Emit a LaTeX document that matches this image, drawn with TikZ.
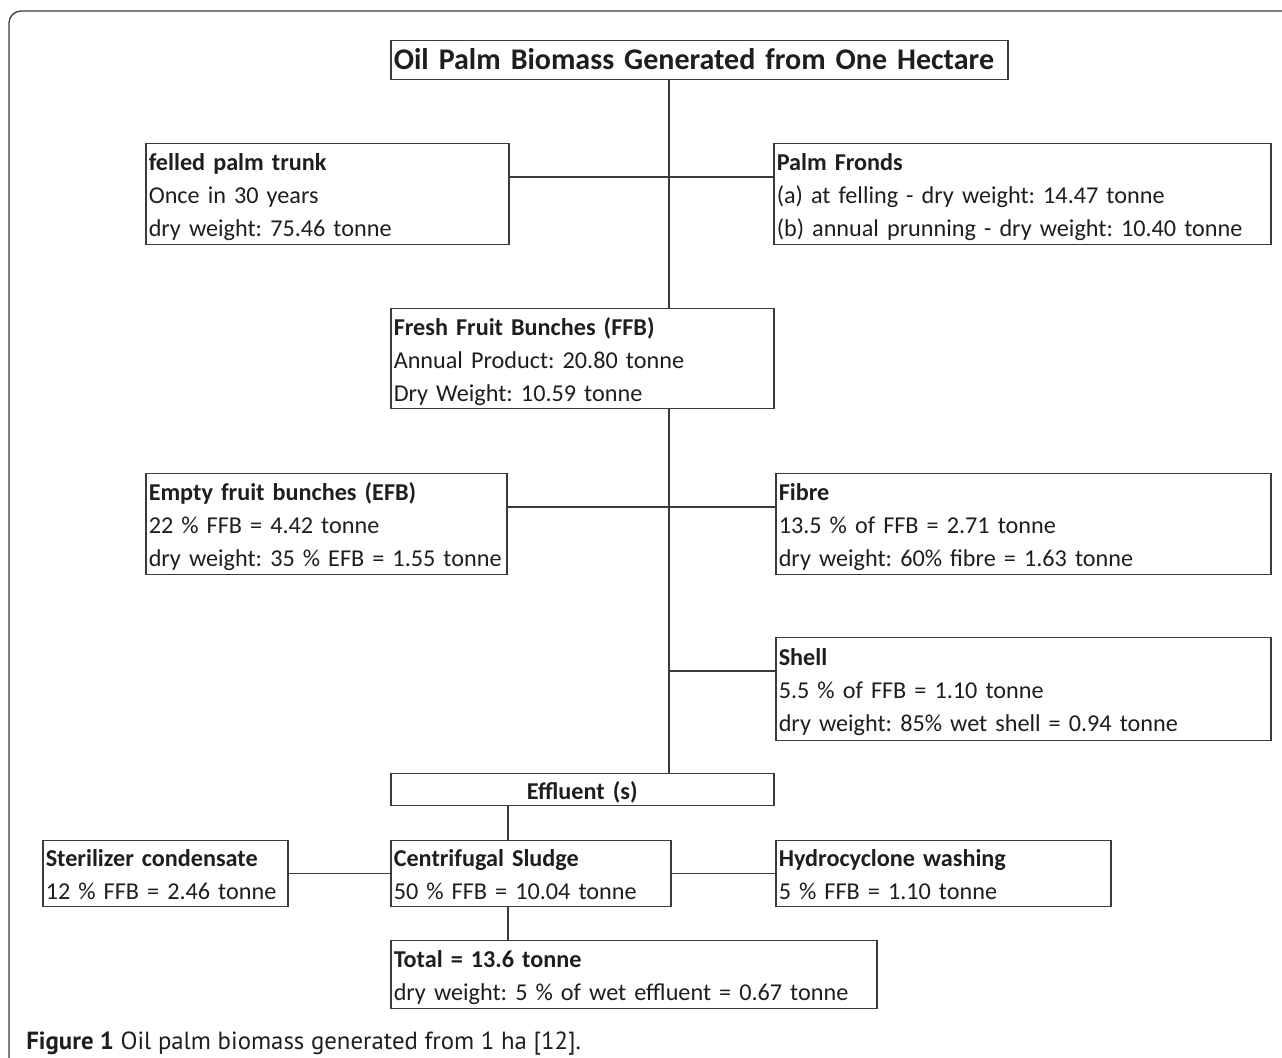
\documentclass[tikz,border=0pt]{standalone}
\usepackage{fontspec}
\setmainfont{Carlito}
\newfontfamily\capfont{PT Sans}
\definecolor{ln}{HTML}{3A3A3A}
\definecolor{tx}{HTML}{1E1E1E}
\newcommand\topstrut{\rule{0pt}{12pt}}
\newcommand\botstrut{\rule[-2.5pt]{0pt}{2.5pt}}
\begin{document}
\begin{tikzpicture}[x=0.5pt,y=-0.5pt,
  bx/.style={draw=ln, line width=0.75pt, fill=white, anchor=north west, rectangle,
    inner xsep=1.5pt, inner ysep=0pt, align=left, text=tx,
    font=\fontsize{12.1}{16.5}\selectfont\frenchspacing,
    execute at begin node=\topstrut, execute at end node=\botstrut},
  conn/.style={draw=ln, line width=0.75pt}]
\useasboundingbox (0,0) rectangle (1282,1058);
\draw[ln, line width=0.65pt, rounded corners=6pt] (9,1062) -- (9,11) -- (1290,11);

\node[bx, minimum width=308.5pt, minimum height=19.5pt, text width=305.5pt,
  font=\fontsize{15}{18}\selectfont\bfseries\frenchspacing] (title) at (390,40)
  {Oil Palm Biomass Generated from One Hectare};

\node[bx, minimum width=181.5pt, minimum height=50.5pt, text width=178.5pt] (trunk) at (145,143)
  {\textbf{felled palm trunk}\\Once in 30 years\\dry weight: 75.46 tonne};
\node[bx, minimum width=248.5pt, minimum height=50.5pt, text width=245.5pt] (fronds) at (773,143)
  {\textbf{Palm Fronds}\\(a) at felling - dry weight: 14.47 tonne\\(b) annual prunning - dry weight: 10.40 tonne};

\node[bx, minimum width=191.5pt, minimum height=50pt, text width=188.5pt] (ffb) at (390,308)
  {\textbf{Fresh Fruit Bunches (FFB)}\\Annual Product: 20.80 tonne\\Dry Weight: 10.59 tonne};

\node[bx, minimum width=180.5pt, minimum height=50.5pt, text width=177.5pt] (efb) at (145,473)
  {\textbf{Empty fruit bunches (EFB)}\\22 \% FFB = 4.42 tonne\\dry weight: 35 \% EFB = 1.55 tonne};
\node[bx, minimum width=247.5pt, minimum height=50.5pt, text width=244.5pt] (fibre) at (775,473)
  {\textbf{Fibre}\\13.5 \% of FFB = 2.71 tonne\\dry weight: 60\% fibre = 1.63 tonne};

\node[bx, minimum width=247.5pt, minimum height=51.5pt, text width=244.5pt] (shell) at (775,637)
  {\textbf{Shell}\\5.5 \% of FFB = 1.10 tonne\\dry weight: 85\% wet shell = 0.94 tonne};

\node[bx, minimum width=191.5pt, minimum height=16pt, text width=188.5pt, align=center] (eff) at (390,773)
  {\textbf{Effluent (s)}};

\node[bx, minimum width=122.5pt, minimum height=33pt, text width=119.5pt] (ster) at (42,840)
  {\textbf{Sterilizer condensate}\\12 \% FFB = 2.46 tonne};
\node[bx, minimum width=140pt, minimum height=33pt, text width=137pt] (cen) at (390,840)
  {\textbf{Centrifugal Sludge}\\50 \% FFB = 10.04 tonne};
\node[bx, minimum width=167.5pt, minimum height=33pt, text width=164.5pt] (hyd) at (775,840)
  {\textbf{Hydrocyclone washing}\\5 \% FFB = 1.10 tonne};

\node[bx, minimum width=243pt, minimum height=34pt, text width=240pt] (tot) at (390,940)
  {\textbf{Total = 13.6 tonne}\\dry weight: 5 \% of wet effluent = 0.67 tonne};

\coordinate (sx) at (669,0);
\coordinate (cx) at (508,0);
\coordinate (ty) at (0,177);
\coordinate (ey) at (0,507);
\coordinate (shy) at (0,671);

\draw[conn] (title.south -| sx) -- (ffb.north -| sx);
\draw[conn] (ffb.south -| sx) -- (eff.north -| sx);
\draw[conn] (trunk.east |- ty) -- (fronds.west |- ty);
\draw[conn] (efb.east |- ey) -- (fibre.west |- ey);
\draw[conn] (sx |- shy) -- (shell.west |- shy);
\draw[conn] (eff.south -| cx) -- (cen.north -| cx);
\draw[conn] (cen.south -| cx) -- (tot.north -| cx);
\draw[conn] (ster.east) -- (cen.west);
\draw[conn] (cen.east) -- (hyd.west);

\node[anchor=base west, inner sep=0pt, text=tx, font=\capfont\fontsize{12.4}{15}\selectfont] (cap) at (26,1050)
  {\textbf{Figure 1} Oil palm biomass generated from 1 ha [12].};
\end{tikzpicture}
\end{document}
